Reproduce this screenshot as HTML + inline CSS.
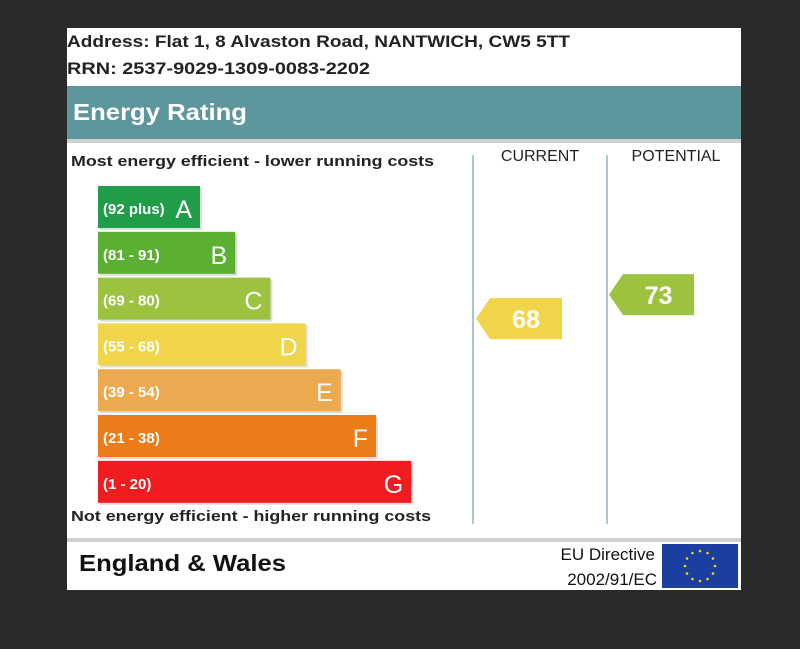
<!DOCTYPE html>
<html><head><meta charset="utf-8"><style>
body{margin:0;width:800px;height:644px;background:#2a2a2a;overflow:hidden;font-family:"Liberation Sans",sans-serif}
</style></head><body>
<svg id="chart" width="800" height="644" xmlns="http://www.w3.org/2000/svg" font-family="Liberation Sans, sans-serif">
<rect x="67" y="28" width="674" height="562" fill="#fff"/>
<text x="67" y="47" font-size="17" font-weight="bold" fill="#222" textLength="503" lengthAdjust="spacingAndGlyphs">Address: Flat 1, 8 Alvaston Road, NANTWICH, CW5 5TT</text>
<text x="67" y="74" font-size="17" font-weight="bold" fill="#222" textLength="303" lengthAdjust="spacingAndGlyphs">RRN: 2537-9029-1309-0083-2202</text>
<rect x="67" y="86" width="674" height="53" fill="#5e969d"/>
<text x="73" y="120" font-size="23" font-weight="bold" fill="#fff" textLength="174" lengthAdjust="spacingAndGlyphs">Energy Rating</text>
<rect x="67" y="139" width="674" height="4" fill="#d0d0d0"/>
<text x="71" y="166" font-size="15" font-weight="bold" fill="#222" textLength="363" lengthAdjust="spacingAndGlyphs">Most energy efficient - lower running costs</text>
<text x="71" y="521" font-size="15" font-weight="bold" fill="#222" textLength="360" lengthAdjust="spacingAndGlyphs">Not energy efficient - higher running costs</text>
<text x="540" y="161" font-size="16" fill="#222" text-anchor="middle">CURRENT</text>
<text x="676" y="161" font-size="16" fill="#222" text-anchor="middle">POTENTIAL</text>
<line x1="473" y1="155" x2="473" y2="524" stroke="#a8c8cd" stroke-width="2"/>
<line x1="607" y1="155" x2="607" y2="524" stroke="#a8c8cd" stroke-width="2"/>
<rect x="67" y="538" width="674" height="4" fill="#d0d0d0"/>
<text x="79" y="571" font-size="23" font-weight="bold" fill="#111" textLength="207" lengthAdjust="spacingAndGlyphs">England &amp; Wales</text>
<text x="655" y="560" font-size="17" fill="#111" text-anchor="end">EU Directive</text>
<text x="657" y="585" font-size="17" fill="#111" text-anchor="end">2002/91/EC</text>
<g>
<rect x="662" y="544" width="76" height="44" fill="#1a3fa0"/>
<g id="stars" fill="#f5d90a"></g>
</g>
<g id="bars"></g>
<g id="arrows"></g>
</svg>
<script>
const bandLetters = ["A","B","C","D","E","F","G"];
const bandRanges = ["(92 plus)","(81 - 91)","(69 - 80)","(55 - 68)","(39 - 54)","(21 - 38)","(1 - 20)"];
const bandColors = ["#1f9d48","#5bb033","#9cc33f","#f0d54a","#eca94f","#ec7b1a","#f01c1f"];
const currentValue = [68];
const potentialValue = [73];
const NS="http://www.w3.org/2000/svg";
function bandY(i){return 186+i*45.8;}
function bandW(i){return 102+i*35.2;}
function valueY(v){return 645-4.8*v;}
const bars=document.getElementById('bars');
bandLetters.forEach((l,i)=>{
  const g=document.createElementNS(NS,'g');
  
  
  const sh=document.createElementNS(NS,'rect');
  sh.setAttribute('x',100);sh.setAttribute('y',bandY(i)+2);sh.setAttribute('width',bandW(i));sh.setAttribute('height',42);sh.setAttribute('fill','#ddd');
  g.appendChild(sh);
  const r=document.createElementNS(NS,'rect');
  r.setAttribute('x',98);r.setAttribute('y',bandY(i));r.setAttribute('width',bandW(i));r.setAttribute('height',42);r.setAttribute('fill',bandColors[i]);
  g.appendChild(r);
  const t=document.createElementNS(NS,'text');
  t.setAttribute('x',103);t.setAttribute('y',bandY(i)+28);t.setAttribute('font-size','15');t.setAttribute('font-weight','bold');t.setAttribute('fill','#fff');
  t.textContent=bandRanges[i];g.appendChild(t);
  const t2=document.createElementNS(NS,'text');
  t2.setAttribute('x',98+bandW(i)-8);t2.setAttribute('y',bandY(i)+32);t2.setAttribute('font-size','25');t2.setAttribute('fill','#fff');t2.setAttribute('text-anchor','end');
  t2.textContent=l;g.appendChild(t2);
  bars.appendChild(g);
});
function bandIndex(v){return v>=92?0:v>=81?1:v>=69?2:v>=55?3:v>=39?4:v>=21?5:6;}
function arrow(v,tip,right,name){
  const y=valueY(v)-20.5,h=41;
  const g=document.createElementNS(NS,'g');
  
  
  const p=document.createElementNS(NS,'polygon');
  p.setAttribute('points',`${tip},${y+h/2} ${tip+14},${y} ${right},${y} ${right},${y+h} ${tip+14},${y+h}`);
  p.setAttribute('fill',bandColors[bandIndex(v)]);
  g.appendChild(p);
  const t=document.createElementNS(NS,'text');
  t.setAttribute('x',(tip+14+right)/2);t.setAttribute('y',y+30);t.setAttribute('font-size','25');t.setAttribute('font-weight','bold');t.setAttribute('fill','#fff');t.setAttribute('text-anchor','middle');
  t.textContent=v;g.appendChild(t);
  document.getElementById('arrows').appendChild(g);
}
arrow(currentValue[0],476,562,'current-rating-arrow');
arrow(potentialValue[0],609,694,'potential-rating-arrow');
const stars=document.getElementById('stars');
for(let k=0;k<12;k++){const a=k*Math.PI/6;const c=document.createElementNS(NS,'circle');
c.setAttribute('cx',700+15*Math.cos(a));c.setAttribute('cy',566+15*Math.sin(a));c.setAttribute('r',1.3);stars.appendChild(c);}
</script>
</body></html>
